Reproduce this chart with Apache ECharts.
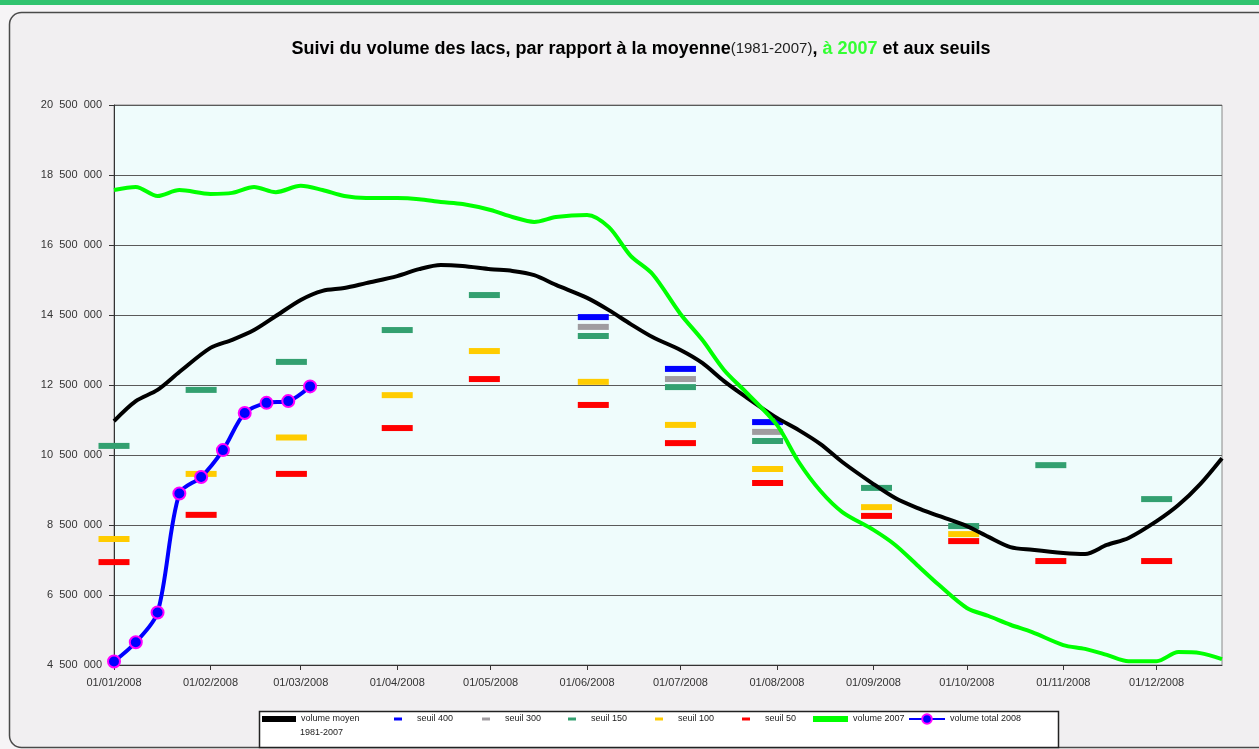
<!DOCTYPE html>
<html>
<head>
<meta charset="utf-8">
<title>Suivi du volume des lacs</title>
<script src="https://cdn.jsdelivr.net/npm/echarts@6/dist/echarts.min.js"></script>
<style>
html, body { margin: 0; padding: 0; background: #f6f4f6; }
#main { width: 1259px; height: 749px; }
</style>
</head>
<body>
<div id="main"></div>
<script>
// courbes hebdo : moyenne 1981-2007 et 2007
var courbeDates = [
    '2008-01-01','2008-01-08','2008-01-15','2008-01-22',
    '2008-02-01','2008-02-08','2008-02-15','2008-02-22',
    '2008-03-01','2008-03-08','2008-03-15','2008-03-22',
    '2008-04-01','2008-04-08','2008-04-15','2008-04-22',
    '2008-05-01','2008-05-08','2008-05-15','2008-05-22',
    '2008-06-01','2008-06-08','2008-06-15','2008-06-22',
    '2008-07-01','2008-07-08','2008-07-15','2008-07-22',
    '2008-08-01','2008-08-08','2008-08-15','2008-08-22',
    '2008-09-01','2008-09-08','2008-09-15','2008-09-22',
    '2008-10-01','2008-10-08','2008-10-15','2008-10-22',
    '2008-11-01','2008-11-08','2008-11-15','2008-11-22',
    '2008-12-01','2008-12-08','2008-12-15','2008-12-22'
];
var volumeMoyen = [
    11470000, 12040000, 12360000, 12870000,
    13560000, 13790000, 14070000, 14470000,
    14930000, 15190000, 15270000, 15410000,
    15610000, 15810000, 15930000, 15900000,
    15810000, 15760000, 15640000, 15360000,
    14990000, 14640000, 14240000, 13870000,
    13500000, 13130000, 12610000, 12160000,
    11560000, 11210000, 10810000, 10300000,
    9670000, 9270000, 8990000, 8760000,
    8470000, 8160000, 7870000, 7790000,
    7700000, 7670000, 7930000, 8130000,
    8610000, 9070000, 9670000, 10410000
];
var volume2007 = [
    18070000, 18160000, 17900000, 18070000,
    17960000, 17990000, 18160000, 18010000,
    18190000, 18070000, 17900000, 17840000,
    17840000, 17810000, 17730000, 17670000,
    17500000, 17300000, 17160000, 17300000,
    17360000, 17010000, 16190000, 15670000,
    14530000, 13790000, 12930000, 12300000,
    11360000, 10300000, 9470000, 8870000,
    8360000, 7930000, 7360000, 6790000,
    6130000, 5900000, 5650000, 5440000,
    5070000, 4960000, 4790000, 4610000,
    4610000, 4870000, 4840000, 4670000
];

// mesures 2008
var dates2008 = ['2008-01-01','2008-01-08','2008-01-15','2008-01-22','2008-01-29',
    '2008-02-05','2008-02-12','2008-02-19','2008-02-26','2008-03-04'];
var volume2008 = [4600000, 5150000, 6000000, 9400000, 9870000,
    10640000, 11700000, 11990000, 12040000, 12460000];

// seuils
var seuilDates = ['2008-01-01','2008-01-29','2008-02-27','2008-04-01','2008-04-29','2008-06-03',
    '2008-07-01','2008-07-29','2008-09-02','2008-09-30','2008-10-28','2008-12-01'];
var seuil400 = [null, null, null, null, null, 14440000, 12960000, 11440000, null, null, null, null];
var seuil300 = [null, null, null, null, null, 14160000, 12670000, 11160000, null, null, null, null];
var seuil150 = [10760000, 12360000, 13160000, 14070000, 15070000, 13900000, 12440000, 10900000, 9560000, 8470000, 10210000, 9240000];
var seuil100 = [8100000, 9960000, 11000000, 12210000, 13470000, 12590000, 11360000, 10100000, 9010000, 8240000, null, null];
var seuil50 = [7440000, 8790000, 9960000, 11270000, 12670000, 11930000, 10840000, 9700000, 8760000, 8040000, 7470000, 7470000];

// graduations
var moisTicks = ['2008-01-01','2008-02-01','2008-03-01','2008-04-01','2008-05-01','2008-06-01',
    '2008-07-01','2008-08-01','2008-09-01','2008-10-01','2008-11-01','2008-12-01'];
var xDebut = '2008-01-01', xFin = '2008-12-22';

var police = 'Liberation Sans, Arial, sans-serif';

// 'aaaa-mm-jj' -> timestamp local
function jour(s) {
    var p = s.split('-');
    return new Date(+p[0], +p[1] - 1, +p[2]).getTime();
}

function paires(dates, vals) {
    var out = [];
    for (var i = 0; i < dates.length; i++) {
        if (vals[i] != null) out.push([jour(dates[i]), vals[i]]);
    }
    return out;
}

function pad2(n) { return n < 10 ? '0' + n : '' + n; }

function seuil(nom, couleur, vals) {
    return {
        name: nom, type: 'scatter', clip: false,
        symbol: 'rect', symbolSize: [31, 6],
        itemStyle: { color: couleur, opacity: 1 },
        data: paires(seuilDates, vals)
    };
}

function legende(nom, x, w, h, icon, decal) {
    var l = {
        data: [nom], left: x, top: 713, padding: 0, selectedMode: false,
        itemWidth: w, itemHeight: h,
        formatter: function (n) { return n === 'volume moyen 1981-2007' ? 'volume moyen' : n; },
        textStyle: { fontSize: 9, lineHeight: 12, color: '#222', fontFamily: police, padding: [0, 0, 0, decal] }
    };
    if (icon) l.icon = icon;
    return l;
}

var ticksX = moisTicks.map(jour);

var chart = echarts.init(document.getElementById('main'));

var option = {
    animation: false,
    backgroundColor: 'transparent',
    title: {
        left: 636, top: 35, textAlign: 'center',
        text: '{b|Suivi du volume des lacs, par rapport à la moyenne}{s|(1981-2007)}{b|, }{g|à 2007}{b| et aux seuils}',
        textStyle: {
            rich: {
                b: { fontSize: 18, fontWeight: 'bold', color: '#000', fontFamily: police },
                s: { fontSize: 15, fontWeight: 'normal', color: '#222', fontFamily: police },
                g: { fontSize: 18, fontWeight: 'bold', color: '#33ff33', fontFamily: police }
            }
        }
    },
    graphic: [
        { type: 'rect', z: -10, shape: { x: 0, y: 0, width: 1259, height: 5 }, style: { fill: '#31c36f' } },
        { type: 'rect', z: -10, shape: { x: 9.5, y: 12.5, width: 1270, height: 735, r: 12 },
          style: { fill: '#f1eff1', stroke: '#4a4a4a', lineWidth: 1.5 } },
        { type: 'rect', z: 1, shape: { x: 259.5, y: 711.5, width: 799, height: 36 },
          style: { fill: '#ffffff', stroke: '#222', lineWidth: 1.5 } },
        { type: 'text', z: 5, x: 300, y: 728,
          style: { text: '1981-2007', fontSize: 9, fill: '#222', fontFamily: police } }
    ],
    legend: [
        legende('volume moyen 1981-2007', 262, 34, 6, 'rect', 0),
        legende('seuil 400', 394, 8, 3, 'rect', 10),
        legende('seuil 300', 482, 8, 3, 'rect', 10),
        legende('seuil 150', 568, 8, 3, 'rect', 10),
        legende('seuil 100', 655, 8, 3, 'rect', 10),
        legende('seuil 50', 742, 8, 3, 'rect', 10),
        legende('volume 2007', 813, 35, 6, 'rect', 0),
        legende('volume total 2008', 908, 36, 12, null, 0)
    ],
    grid: {
        left: 114, right: 37, top: 105, bottom: 84,
        show: true, backgroundColor: '#effcfc', borderColor: '#8a8a8a', borderWidth: 1
    },
    xAxis: {
        type: 'value',
        min: jour(xDebut), max: jour(xFin),
        axisLine: { lineStyle: { color: '#333', width: 1 } },
        axisTick: { show: true, length: 5, customValues: ticksX, lineStyle: { color: '#333' } },
        axisLabel: {
            customValues: ticksX, margin: 12, fontSize: 11, color: '#333', fontFamily: police,
            formatter: function (v) {
                var d = new Date(v);
                return pad2(d.getDate()) + '/' + pad2(d.getMonth() + 1) + '/' + d.getFullYear();
            }
        },
        splitLine: { show: false }
    },
    yAxis: {
        type: 'value',
        min: 4500000, max: 20500000, interval: 2000000,
        axisLine: { show: true, lineStyle: { color: '#333', width: 1 } },
        axisTick: { show: true, length: 5, lineStyle: { color: '#333' } },
        axisLabel: {
            margin: 12, fontSize: 11, color: '#333', fontFamily: police,
            formatter: function (v) { return String(v).replace(/\B(?=(\d{3})+(?!\d))/g, '  '); }
        },
        splitLine: { show: true, lineStyle: { color: '#5a5a5a', width: 1 } }
    },
    series: [
        {
            name: 'volume moyen 1981-2007', type: 'line', smooth: 0.3, showSymbol: false,
            lineStyle: { color: '#000', width: 4 }, itemStyle: { color: '#000' },
            data: paires(courbeDates, volumeMoyen)
        },
        seuil('seuil 400', '#0000ff', seuil400),
        seuil('seuil 300', '#a09ca0', seuil300),
        seuil('seuil 150', '#33a070', seuil150),
        seuil('seuil 100', '#ffcc00', seuil100),
        seuil('seuil 50', '#ff0000', seuil50),
        {
            name: 'volume 2007', type: 'line', smooth: 0.3, showSymbol: false,
            lineStyle: { color: '#00ff00', width: 4 }, itemStyle: { color: '#00ff00' },
            data: paires(courbeDates, volume2007)
        },
        {
            name: 'volume total 2008', type: 'line', smooth: 0.3,
            symbol: 'circle', symbolSize: 12,
            lineStyle: { color: '#0000ff', width: 4 },
            itemStyle: { color: '#0000ff', borderColor: '#ff00ff', borderWidth: 2 },
            data: paires(dates2008, volume2008)
        }
    ]
};

chart.setOption(option);
</script>
</body>
</html>
